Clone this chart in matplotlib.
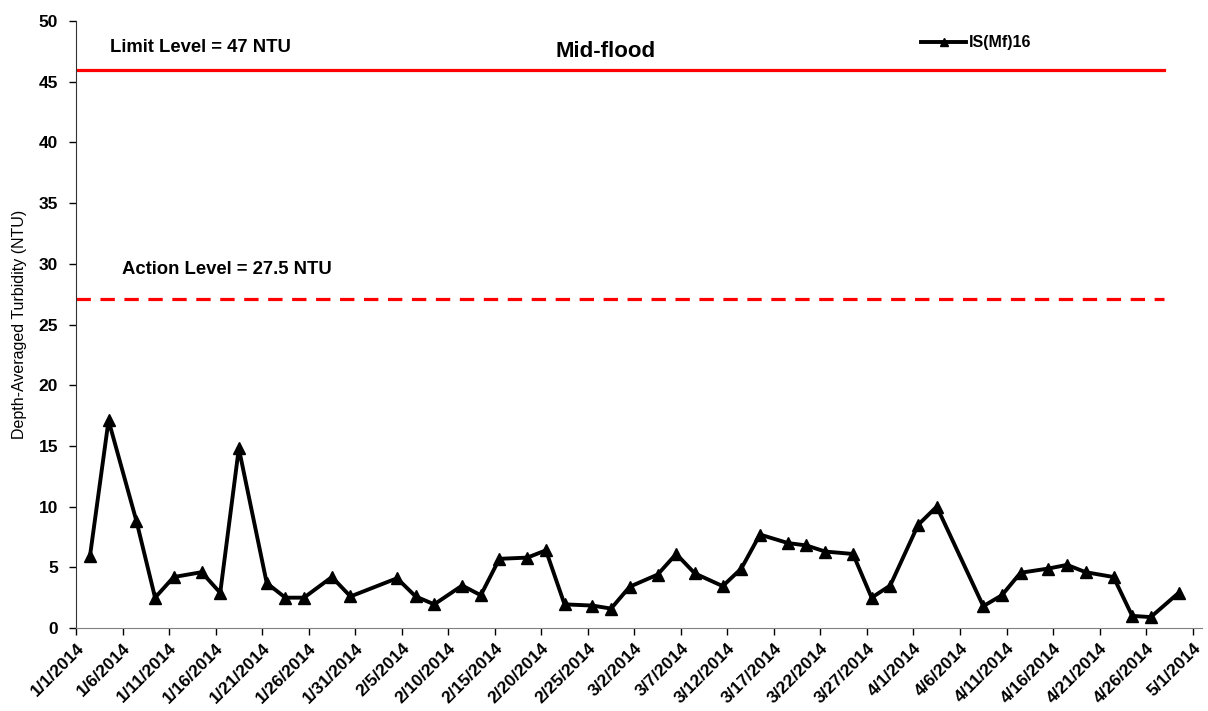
import matplotlib
matplotlib.use("Agg")
import matplotlib.pyplot as plt
import pandas as pd

plt.rcParams['font.family'] = ['Liberation Sans', 'DejaVu Sans']

dates = ["2014-01-02", "2014-01-04", "2014-01-07", "2014-01-09", "2014-01-11",
         "2014-01-14", "2014-01-16", "2014-01-18", "2014-01-21", "2014-01-23",
         "2014-01-25", "2014-01-28", "2014-01-30", "2014-02-04", "2014-02-06",
         "2014-02-08", "2014-02-11", "2014-02-13", "2014-02-15", "2014-02-18",
         "2014-02-20", "2014-02-22", "2014-02-25", "2014-02-27", "2014-03-01",
         "2014-03-04", "2014-03-06", "2014-03-08", "2014-03-11", "2014-03-13",
         "2014-03-15", "2014-03-18", "2014-03-20", "2014-03-22", "2014-03-25",
         "2014-03-27", "2014-03-29", "2014-04-01", "2014-04-03", "2014-04-08",
         "2014-04-10", "2014-04-12", "2014-04-15", "2014-04-17", "2014-04-19",
         "2014-04-22", "2014-04-24", "2014-04-26", "2014-04-29"]
turbidity = [5.9, 17.1, 8.8, 2.5, 4.2,
             4.6, 2.9, 14.8, 3.7, 2.5,
             2.5, 4.2, 2.6, 4.1, 2.6,
             1.95, 3.5, 2.7, 5.7, 5.8,
             6.4, 1.95, 1.85, 1.6, 3.4,
             4.4, 6.1, 4.5, 3.45, 4.9,
             7.7, 7.0, 6.8, 6.3, 6.1,
             2.5, 3.5, 8.5, 10.0, 1.8,
             2.7, 4.55, 4.9, 5.2, 4.6,
             4.2, 1.0, 0.9, 2.9]
series_name = "IS(Mf)16"
limit_value = 46.0
action_value = 27.1
limit_label = "Limit Level = 47 NTU"
action_label = "Action Level = 27.5 NTU"
title = "Mid-flood"
ylabel = "Depth-Averaged Turbidity (NTU)"

x = pd.to_datetime(dates) + pd.Timedelta(hours=12)

fig = plt.figure(figsize=(12.08, 7.11), dpi=100)
ax = fig.add_axes([0.0629, 0.1167, 0.9321, 0.8538])

ax.axhline(limit_value, xmin=0, xmax=0.966, color='#ff0000', lw=2.3)
ax.axhline(action_value, xmin=0, xmax=0.966, color='#ff0000', lw=2.3,
           dashes=(4.5, 3))
ax.plot(x, turbidity, color='black', lw=2.8, marker='^', markersize=9,
        label=series_name)

ax.set_xlim(pd.Timestamp("2014-01-01"), pd.Timestamp("2014-05-02"))
ax.set_ylim(0, 50)
ax.set_yticks(range(0, 51, 5))
ticks = pd.date_range("2014-01-01", "2014-05-01", freq="5D")
ax.set_xticks(ticks)
ax.set_xticklabels([f"{d.month}/{d.day}/{d.year}" for d in ticks],
                   rotation=45, ha='right', rotation_mode='anchor')

for s in ['top', 'right']:
    ax.spines[s].set_visible(False)
ax.spines['left'].set_color('#333333')
ax.spines['bottom'].set_color('#808080')
ax.tick_params(axis='x', direction='out', length=5, width=1, labelsize=12.5, pad=4)
ax.tick_params(axis='y', direction='out', length=5, width=1, labelsize=12.5, pad=8)
for lab in ax.get_xticklabels() + ax.get_yticklabels():
    lab.set_fontweight('bold')

ax.set_ylabel(ylabel, fontsize=11.5, labelpad=8)

ax.text(0.030, 0.957, limit_label, transform=ax.transAxes, fontsize=13.3,
        fontweight='bold', va='center', ha='left')
ax.text(0.041, 0.590, action_label, transform=ax.transAxes, fontsize=13.3,
        fontweight='bold', va='center', ha='left')
ax.text(0.470, 0.949, title, transform=ax.transAxes, fontsize=16,
        fontweight='bold', va='center', ha='center')

leg = ax.legend(loc='center left', bbox_to_anchor=(0.745, 0.964), frameon=False,
                handlelength=2.8, handletextpad=0.2, borderaxespad=0,
                markerscale=0.6, prop={'weight': 'bold', 'size': 11.5})

fig.savefig("out.png", dpi=100)
